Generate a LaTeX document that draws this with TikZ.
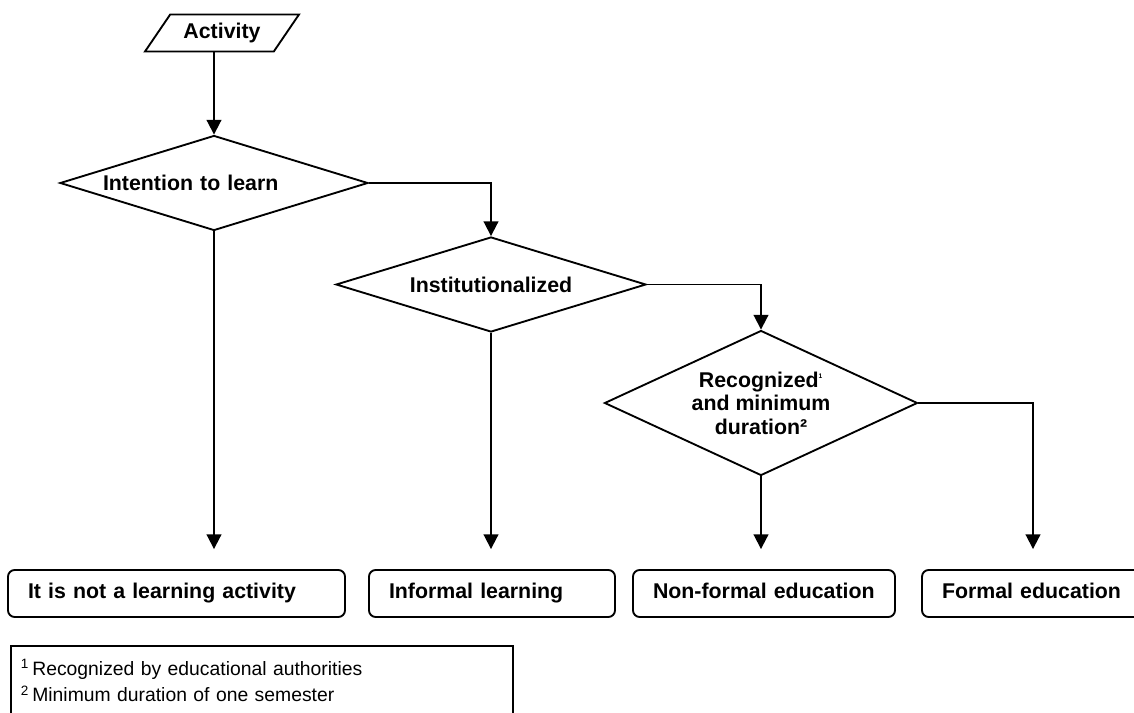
\documentclass[tikz,border=0pt]{standalone}
\usepackage{fontspec}
\setmainfont{Liberation Sans}
\usetikzlibrary{shapes.geometric,arrows.meta}

\tikzset{every picture/.style={line width=1.4pt}}
\tikzset{
  boldtext/.style={font=\fontsize{16}{17.6}\selectfont\bfseries},
  decision/.style={diamond, draw, inner sep=0pt, boldtext, align=center},
  outcome/.style={draw, rounded corners=5pt, inner xsep=15pt, inner ysep=0pt, text height=11.6pt, text depth=3.4pt, minimum height=35.25pt, boldtext, align=left},
  notebox/.style={draw, inner xsep=7.5pt, inner ysep=0pt, font=\fontsize{14.5}{20}\selectfont, align=left},
  flow/.style={-{Triangle[length=11pt,width=11pt]}},
}

\begin{document}
\begin{tikzpicture}[x=0.75pt,y=0.75pt,yscale=-1,xscale=1]
\useasboundingbox (0,0) rectangle (1134,713);

%Shape: Parallelogram
\node[trapezium, draw, trapezium left angle=54, trapezium right angle=126, trapezium stretches=true, minimum width=116pt, minimum height=27.75pt, boldtext] (act) at (222,33) {Activity};

%Shape: Diamonds
\node[decision, minimum width=231pt, minimum height=71.25pt, aspect=3.24, text width=166.5pt, align=left] (intent) at (214,183) {Intention to learn};
\node[decision, minimum width=232.5pt, minimum height=71.25pt, aspect=3.26] (inst) at (491,284.5) {Institutionalized};
\node[decision, minimum width=234.75pt, minimum height=108.75pt, aspect=2.16] (recog) at (761,403) {Recognized\textsuperscript{\tiny 1}\\and minimum\\duration²};

%Shape: Rounded Rectangles
\node[outcome, text width=222.75pt] (notlearn) at (176.5,593.5) {It is not a learning activity};
\node[outcome, text width=154.5pt] (informal) at (492,593.5) {Informal learning};
\node[outcome, text width=166.5pt] (nonformal) at (764,593.5) {Non-formal education};
\node[outcome, text width=136.5pt] (formal) at (1033,593.5) {Formal education};

%Shape: Rectangle
\node[notebox, anchor=north west, text width=361.5pt, minimum height=52pt] (notes) at (10,645) {\textsuperscript{1}\,Recognized by educational authorities\\\textsuperscript{2}\,Minimum duration of one semester};

%Straight Lines
\draw[flow] (intent.north |- act.south) -- (intent.north);
\draw[flow] (intent.east) -| (inst.north);
\draw[flow] (inst.east) -| (recog.north);
\draw[flow, shorten >=15pt] (recog.east) -| (formal.north);
\draw[flow, shorten >=15pt] (intent.south) -- (intent.south |- notlearn.north);
\draw[flow, shorten >=15pt] (inst.south) -- (inst.south |- informal.north);
\draw[flow, shorten >=15pt] (recog.south) -- (recog.south |- nonformal.north);

\end{tikzpicture}
\end{document}
